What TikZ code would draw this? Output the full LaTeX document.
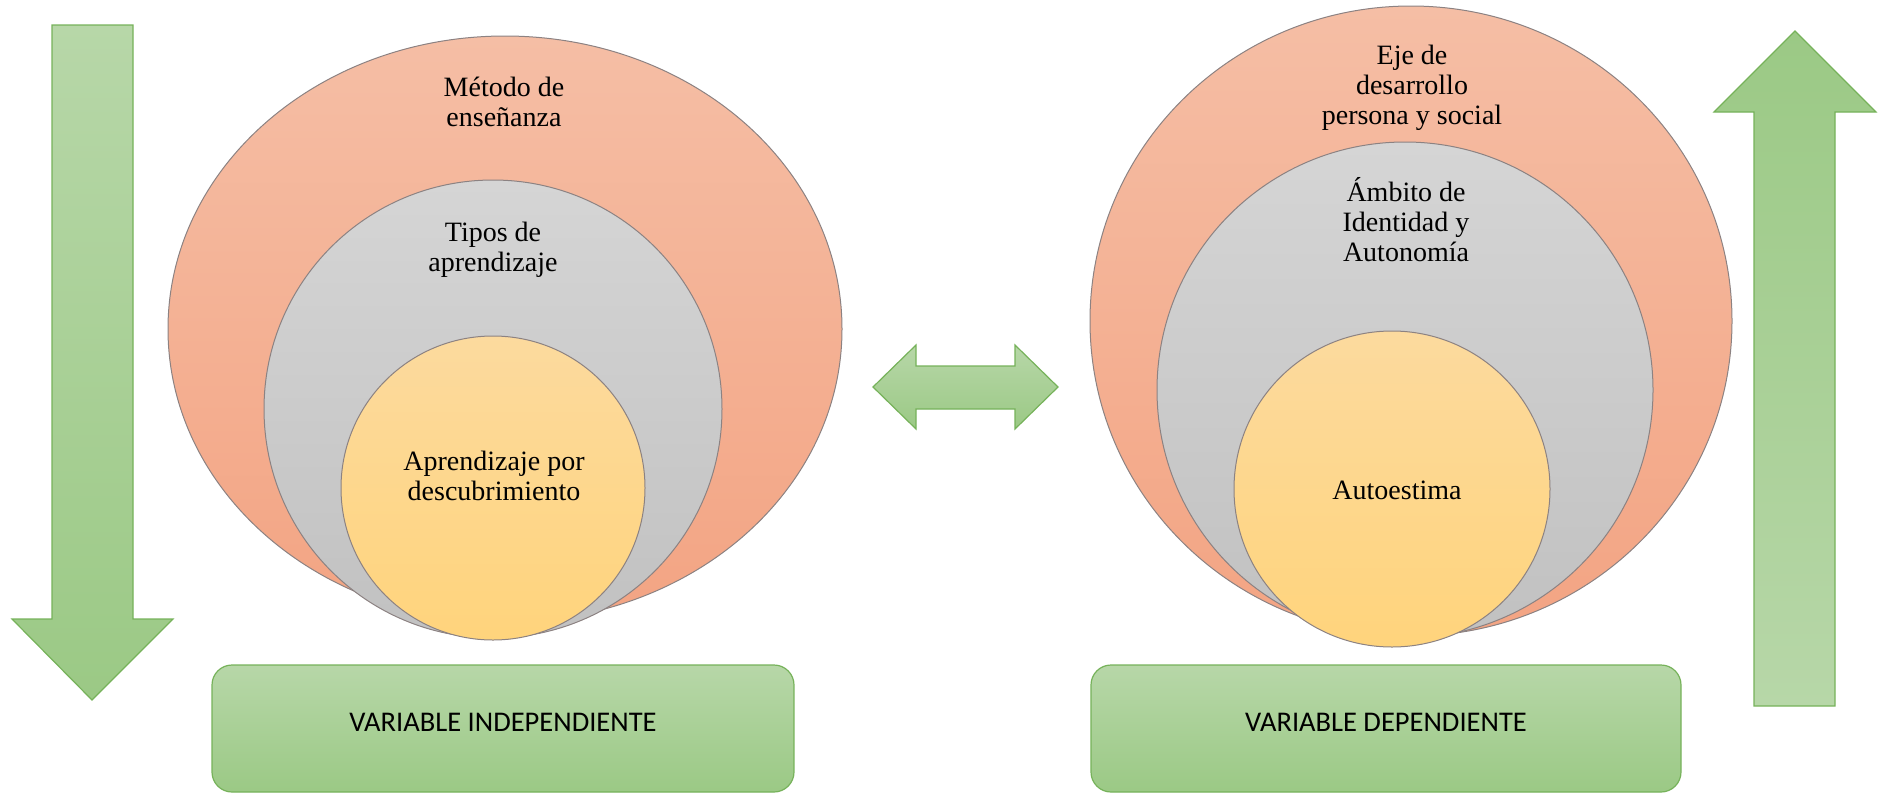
\documentclass[tikz,border=0pt]{standalone}
\usepackage{fontspec}
\setmainfont{Liberation Serif}
\newfontfamily\boxfont{Carlito}
\usetikzlibrary{shapes.geometric}
\definecolor{orTop}{HTML}{F5BEA5}
\definecolor{orBot}{HTML}{F3A483}
\definecolor{grTop}{HTML}{D5D5D5}
\definecolor{grBot}{HTML}{C1C1C1}
\definecolor{yeTop}{HTML}{FCDA9E}
\definecolor{yeBot}{HTML}{FFD47C}
\definecolor{gTop}{HTML}{B7D7A8}
\definecolor{gBot}{HTML}{9BC985}
\definecolor{gLine}{HTML}{76B25A}
\definecolor{ringLine}{HTML}{8C8282}
\tikzset{
  ring/.style={ellipse, inner sep=0pt, draw=ringLine, line width=1pt},
  orangering/.style={ring, top color=orTop, bottom color=orBot},
  grayring/.style={ring, top color=grTop, bottom color=grBot},
  yellowring/.style={ring, top color=yeTop, bottom color=yeBot},
  lbl/.style={font=\fontsize{28}{30}\selectfont, align=center, text=black, inner sep=0pt},
  greenshape/.style={draw=gLine, line width=1.2pt, line join=miter},
  greendown/.style={greenshape, top color=gTop, bottom color=gBot},
  greenup/.style={greenshape, top color=gBot, bottom color=gTop},
  varbox/.style={greendown, rounded corners=20pt, inner sep=0pt},
  boxtext/.style={font=\boxfont\fontsize{28.5}{30}\selectfont, text=black, inner sep=0pt}
}
\begin{document}
\begin{tikzpicture}[x=1pt,y=-1pt]
\useasboundingbox (0,0) rectangle (1883,793);

% left set of circles
\node[orangering, minimum width=674pt, minimum height=586pt] (lout) at (505,329) {};
\node[grayring, minimum width=458pt, minimum height=458pt] (lmid) at (493,409) {};
\node[yellowring, minimum width=304pt, minimum height=304pt] (lin) at (493,488) {};
\node[lbl] (ltxt1) at (504,102) {Método de\\enseñanza};
\node[lbl] (ltxt2) at (493,250) {Tipos de\\aprendizaje};
\node[lbl] (ltxt3) at (494,476) {Aprendizaje por\\descubrimiento};

% right set of circles
\node[orangering, minimum width=642pt, minimum height=630pt] (rout) at (1411,321) {};
\node[grayring, minimum width=496pt, minimum height=496pt] (rmid) at (1405,390) {};
\node[yellowring, minimum width=316pt, minimum height=316pt] (rin) at (1392,489) {};
\node[lbl] (rtxt1) at (1412,88) {Eje de\\desarrollo\\persona y social};
\node[lbl] (rtxt2) at (1406,220) {Ámbito de\\Identidad y\\Autonomía};
\node[lbl] (rtxt3) at (1397,490) {Autoestima};

% down arrow (left)
\draw[greendown] (52,25) -- (133,25) -- (133,619) -- (173,619) -- (92,700)
  -- (12,619) -- (52,619) -- cycle;
% up arrow (right)
\draw[greenup] (1754,706) -- (1835,706) -- (1835,112) -- (1876,112) -- (1795,31)
  -- (1714,112) -- (1754,112) -- cycle;
% double arrow (middle)
\draw[greendown] (873,387) -- (916,345) -- (916,366) -- (1015,366) -- (1015,345)
  -- (1058,387) -- (1015,429) -- (1015,409) -- (916,409) -- (916,429) -- cycle;

% variable boxes
\node[varbox, minimum width=582pt, minimum height=127pt] (vi) at (503,728.5) {};
\node[boxtext] (vitxt) at (503,722) {VARIABLE INDEPENDIENTE};
\node[varbox, minimum width=590pt, minimum height=127pt] (vd) at (1386,728.5) {};
\node[boxtext] (vdtxt) at (1386,722) {VARIABLE DEPENDIENTE};
\end{tikzpicture}
\end{document}
